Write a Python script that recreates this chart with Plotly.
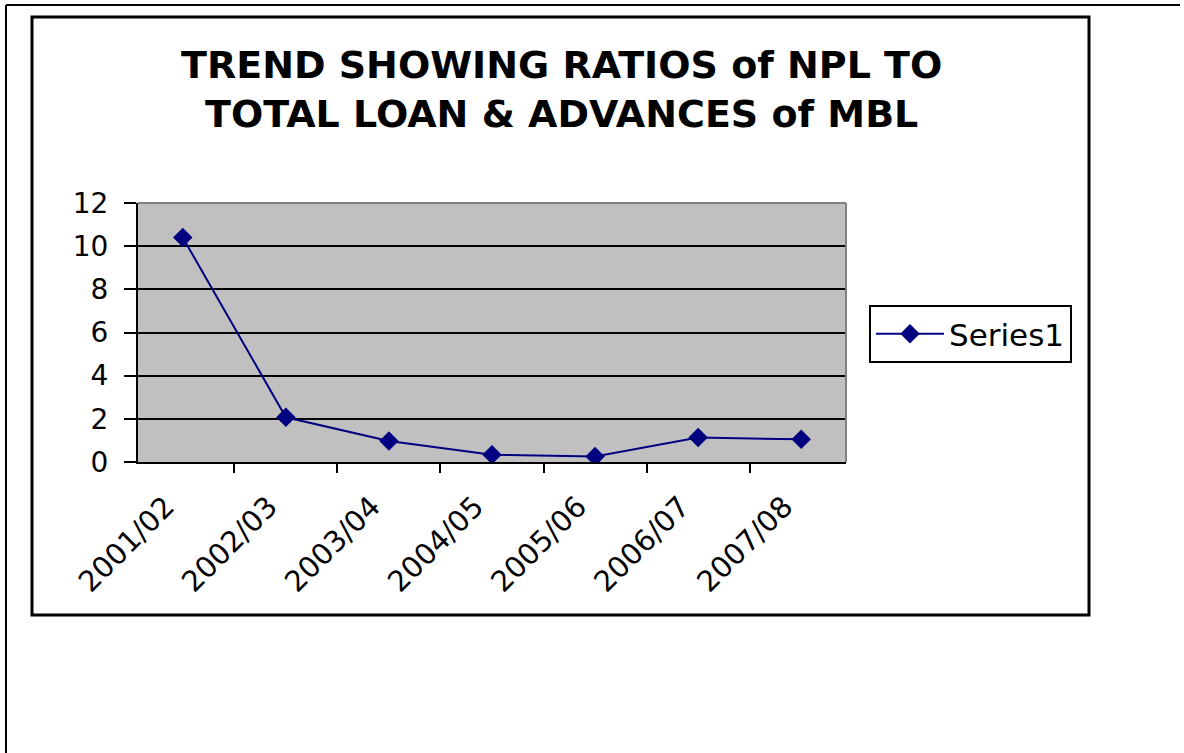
import plotly.graph_objects as go

W, H = 1184, 753

categories = ["2001/02", "2002/03", "2003/04", "2004/05", "2005/06", "2006/07", "2007/08"]
npl_ratio = [10.4, 2.07, 0.97, 0.34, 0.25, 1.13, 1.05]
y_ticks = [0, 2, 4, 6, 8, 10, 12]

def px(x):
    return x / W

def py(y):
    return 1 - y / H

FONT = "DejaVu Sans, Liberation Sans, Arial, sans-serif"

fig = go.Figure()
fig.add_trace(go.Scatter(
    x=categories, y=npl_ratio, name="Series1", mode="lines+markers",
    line=dict(color="#000080", width=2),
    marker=dict(symbol="diamond", size=15, color="#000080"),
))

fig.update_layout(
    width=W, height=H,
    margin=dict(l=0, r=0, t=0, b=0),
    paper_bgcolor="white",
    plot_bgcolor="#C0C0C0",
    font=dict(family=FONT, color="black", size=28),
    showlegend=True,
    legend=dict(
        x=px(869), y=py(305), xanchor="left", yanchor="top",
        bordercolor="black", borderwidth=2, bgcolor="white",
        font=dict(size=31, family=FONT),
        itemwidth=68,
    ),
    xaxis=dict(
        domain=[px(138), px(846)],
        type="category", tickson="boundaries",
        ticks="outside", ticklen=9, tickwidth=2, tickcolor="black",
        showline=True, linecolor="black", linewidth=2,
        showgrid=False, tickangle=-45, tickfont=dict(size=29),
        ticklabelstandoff=14, ticklabelshift=-17,
        automargin=False,
    ),
    yaxis=dict(
        domain=[py(462), py(203)],
        range=[0, 12], tickvals=y_ticks,
        ticks="outside", ticklen=12, tickwidth=2, tickcolor="black",
        showline=True, linecolor="black", linewidth=2,
        showgrid=True, gridcolor="black", gridwidth=2,
        zeroline=False, tickfont=dict(size=28),
        ticklabelstandoff=10,
        automargin=False,
    ),
)

# plot area right/top border (gray)
fig.add_shape(type="line", xref="paper", yref="paper",
              x0=px(846), x1=px(846), y0=py(462), y1=py(203),
              line=dict(color="#808080", width=2))
fig.add_shape(type="line", xref="paper", yref="paper",
              x0=px(138), x1=px(846), y0=py(203), y1=py(203),
              line=dict(color="#808080", width=2))

# outer page lines (top and left)
fig.add_shape(type="line", xref="paper", yref="paper",
              x0=px(6), x1=px(1180), y0=py(5), y1=py(5),
              line=dict(color="black", width=2))
fig.add_shape(type="line", xref="paper", yref="paper",
              x0=px(6), x1=px(6), y0=py(5), y1=py(753),
              line=dict(color="black", width=2))

# chart area frame
fig.add_shape(type="rect", xref="paper", yref="paper",
              x0=px(32), x1=px(1089), y0=py(615), y1=py(17),
              line=dict(color="black", width=3))

fig.add_annotation(
    xref="paper", yref="paper", x=px(561), y=py(89),
    xanchor="center", yanchor="middle", showarrow=False,
    text="<b>TREND SHOWING RATIOS of NPL TO<br>TOTAL LOAN &amp; ADVANCES of MBL</b>",
    font=dict(size=38, family="DejaVu Sans, sans-serif", color="black"),
    align="center",
)

fig.write_html("out.html")
